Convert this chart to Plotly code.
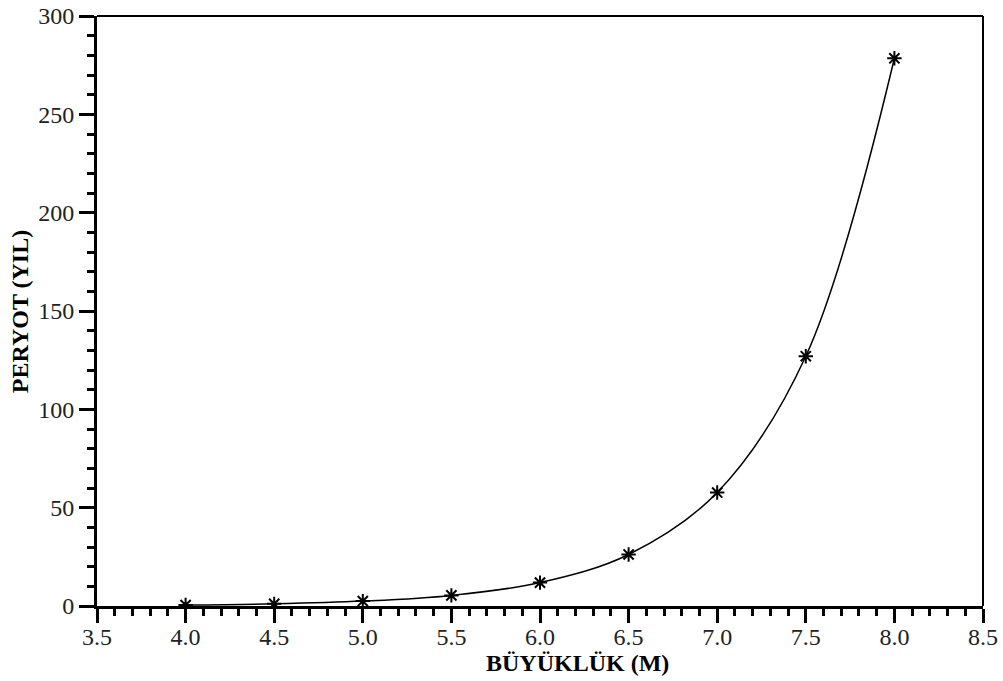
import plotly.graph_objects as go

magnitude = [4.0, 4.5, 5.0, 5.5, 6.0, 6.5, 7.0, 7.5, 8.0]
period_years = [0.5, 1.1, 2.5, 5.4, 11.9, 26.2, 57.7, 127.0, 278.5]

x_title = "BÜYÜKLÜK (M)"
y_title = "PERYOT (YIL)"

FONT = "Liberation Serif, Times New Roman, serif"

fig = go.Figure()
fig.add_trace(go.Scatter(
    x=magnitude, y=period_years, mode="lines+markers",
    line=dict(color="black", width=1.5, shape="spline", smoothing=1.0),
    marker=dict(symbol="asterisk-open", size=12, color="black",
                line=dict(color="black", width=2)),
    showlegend=False,
))

fig.update_layout(
    width=1003, height=681,
    margin=dict(l=97, r=20, t=16, b=75, autoexpand=False),
    paper_bgcolor="white", plot_bgcolor="white",
    font=dict(family=FONT, color="#222", size=24),
    xaxis=dict(
        range=[3.5, 8.5], dtick=0.5, tick0=3.5, tickformat=".1f",
        showgrid=False, zeroline=False, automargin=False,
        showline=True, linecolor="black", linewidth=3,
        ticks="outside", ticklen=14, tickwidth=3, tickcolor="black",
        minor=dict(dtick=0.1, ticks="outside", ticklen=7, tickwidth=2.5,
                   tickcolor="black", showgrid=False),
        tickfont=dict(size=24, color="#222"),
        ticklabelstandoff=-7, ticklabeloverflow="allow",
    ),
    yaxis=dict(
        range=[0, 300], dtick=50, showgrid=False, zeroline=False, automargin=False,
        showline=True, linecolor="black", linewidth=3,
        ticks="outside", ticklen=15, tickwidth=3, tickcolor="black",
        minor=dict(dtick=10, ticks="outside", ticklen=7, tickwidth=2.5,
                   tickcolor="black", showgrid=False),
        tickfont=dict(size=24, color="#222"),
        ticklabeloverflow="allow",
    ),
    shapes=[
        dict(type="line", xref="paper", yref="paper", x0=0, x1=1, y0=1, y1=1,
             line=dict(color="black", width=2)),
        dict(type="line", xref="paper", yref="paper", x0=1, x1=1, y0=0, y1=1,
             line=dict(color="black", width=2)),
    ],
    annotations=[
        dict(text="<b>" + x_title + "</b>", xref="paper", yref="paper",
             x=0.5418, y=-0.0966, xanchor="center", yanchor="middle",
             showarrow=False, font=dict(size=24, color="black", family=FONT)),
        dict(text="<b>" + y_title + "</b>", xref="paper", yref="paper",
             x=-0.0869, y=0.498, xanchor="center", yanchor="middle",
             textangle=-90, showarrow=False,
             font=dict(size=24, color="black", family=FONT)),
    ],
)

fig.write_html("out.html", config={"displayModeBar": False},
               post_script="document.body.style.margin='0';")
